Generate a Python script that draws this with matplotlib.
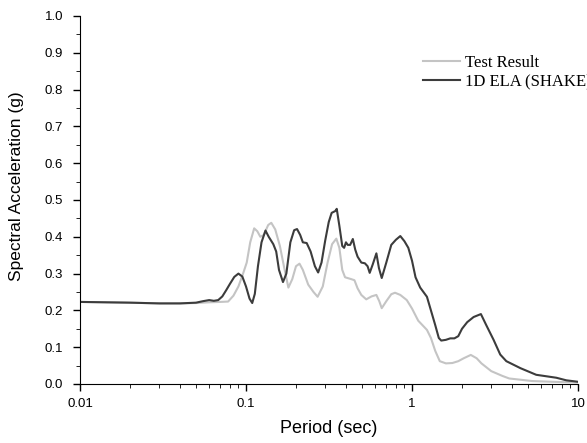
import matplotlib.pyplot as plt
from matplotlib.ticker import FixedLocator, LogLocator, NullFormatter, MultipleLocator
import numpy as np

# period (sec) and spectral acceleration (g)
period_test = [0.01, 0.02, 0.03, 0.04, 0.05, 0.06, 0.07, 0.078, 0.084, 0.09, 0.096,
               0.101, 0.106, 0.112, 0.117, 0.122, 0.128, 0.136, 0.142, 0.15, 0.16,
               0.17, 0.18, 0.19, 0.2, 0.21, 0.22, 0.237, 0.255, 0.27, 0.29, 0.31,
               0.33, 0.35, 0.365, 0.38, 0.395, 0.43, 0.45, 0.47, 0.495, 0.53, 0.57,
               0.61, 0.635, 0.657, 0.70, 0.75, 0.79, 0.85, 0.93, 1.0, 1.09, 1.23,
               1.3, 1.38, 1.47, 1.6, 1.75, 1.9, 2.05, 2.26, 2.45, 2.62, 3.0, 3.5,
               3.85, 5.3, 7.0, 10.0]
sa_test = [0.223, 0.221, 0.219, 0.219, 0.220, 0.222, 0.223, 0.224, 0.240, 0.265, 0.300,
           0.330, 0.385, 0.423, 0.415, 0.400, 0.405, 0.432, 0.438, 0.420, 0.375,
           0.315, 0.262, 0.285, 0.320, 0.327, 0.310, 0.270, 0.250, 0.237, 0.265, 0.330,
           0.380, 0.395, 0.370, 0.310, 0.290, 0.285, 0.282, 0.260, 0.242, 0.230, 0.238,
           0.242, 0.225, 0.206, 0.225, 0.244, 0.248, 0.242, 0.228, 0.205, 0.172, 0.147,
           0.125, 0.090, 0.062, 0.056, 0.057, 0.062, 0.070, 0.079, 0.070, 0.056, 0.035, 0.022,
           0.015, 0.008, 0.006, 0.004]

period_shake = [0.01, 0.02, 0.03, 0.04, 0.05, 0.055, 0.06, 0.064, 0.068, 0.072, 0.076,
                0.080, 0.085, 0.09, 0.095, 0.1, 0.105, 0.109, 0.113, 0.118, 0.124,
                0.131, 0.137, 0.146, 0.152, 0.158, 0.167, 0.175, 0.185, 0.195, 0.203,
                0.212, 0.22, 0.232, 0.245, 0.26, 0.272, 0.285, 0.30, 0.315, 0.328,
                0.345, 0.352, 0.365, 0.38, 0.39, 0.40, 0.41, 0.424, 0.44, 0.455, 0.47,
                0.495, 0.52, 0.54, 0.556, 0.58, 0.61, 0.632, 0.657, 0.70, 0.75, 0.80,
                0.85, 0.90, 0.95, 1.0, 1.05, 1.12, 1.23, 1.3, 1.38, 1.45, 1.5, 1.6,
                1.7, 1.8, 1.9, 2.0, 2.15, 2.35, 2.6, 2.8, 3.1, 3.4, 3.7, 4.5, 5.6,
                7.4, 8.5, 10.0]
sa_shake = [0.223, 0.221, 0.219, 0.219, 0.221, 0.225, 0.228, 0.226, 0.228, 0.238, 0.255,
            0.272, 0.291, 0.300, 0.292, 0.265, 0.232, 0.220, 0.245, 0.320, 0.385,
            0.417, 0.400, 0.380, 0.360, 0.310, 0.277, 0.300, 0.385, 0.418, 0.421,
            0.405, 0.385, 0.383, 0.360, 0.320, 0.303, 0.330, 0.390, 0.440, 0.465,
            0.470, 0.476, 0.430, 0.375, 0.370, 0.385, 0.378, 0.378, 0.394, 0.365, 0.346,
            0.330, 0.328, 0.320, 0.302, 0.325, 0.355, 0.315, 0.288, 0.330, 0.378, 0.392,
            0.402, 0.388, 0.370, 0.335, 0.290, 0.262, 0.237, 0.200, 0.160, 0.125, 0.118, 0.120,
            0.124, 0.124, 0.130, 0.150, 0.168, 0.182, 0.190, 0.160, 0.120, 0.080, 0.062, 0.043, 0.025,
            0.017, 0.010, 0.006]

plt.rcParams['font.family'] = ['Liberation Sans', 'DejaVu Sans']

fig = plt.figure(figsize=(5.87, 4.43), dpi=100)
ax = fig.add_axes([0.1363, 0.1332, 0.8484, 0.8307])

ax.plot(period_test, sa_test, color='#c4c4c4', lw=1.5, label='Test Result')
ax.plot(period_shake, sa_shake, color='#3c3c3c', lw=1.5, label='1D ELA (SHAKE)')

ax.set_xscale('log')
ax.set_xlim(0.01, 10)
ax.set_ylim(0, 1.0)
ax.xaxis.set_major_locator(FixedLocator([0.01, 0.1, 1, 10]))
ax.set_xticklabels(['0.01', '0.1', '1', '10'])
ax.xaxis.set_minor_locator(LogLocator(base=10, subs=np.arange(2, 10)))
ax.xaxis.set_minor_formatter(NullFormatter())
ax.yaxis.set_minor_locator(MultipleLocator(0.05))
ax.set_yticks(np.arange(0, 1.01, 0.1))
ax.set_yticklabels([f'{v:.1f}' for v in np.arange(0, 1.01, 0.1)])

for s in ['top', 'right']:
    ax.spines[s].set_visible(False)
ax.tick_params(which='major', direction='out', length=5, width=1, labelsize=9.5)
ax.tick_params(which='minor', direction='out', length=3)
ax.tick_params(axis='y', which='major', pad=7)
ax.tick_params(axis='x', which='major', pad=5)

ax.set_xlabel('Period (sec)', fontsize=13, labelpad=7)
ax.set_ylabel('Spectral Acceleration (g)', fontsize=12.5)
ax.yaxis.set_label_coords(-0.112, 0.537)

ax.legend(loc='upper left', bbox_to_anchor=(0.659, 0.935), frameon=False,
          prop={'family': 'Liberation Serif', 'size': 12}, handlelength=2.2,
          handletextpad=0.3, labelspacing=0.2)

fig.savefig('out.png', dpi=100)
